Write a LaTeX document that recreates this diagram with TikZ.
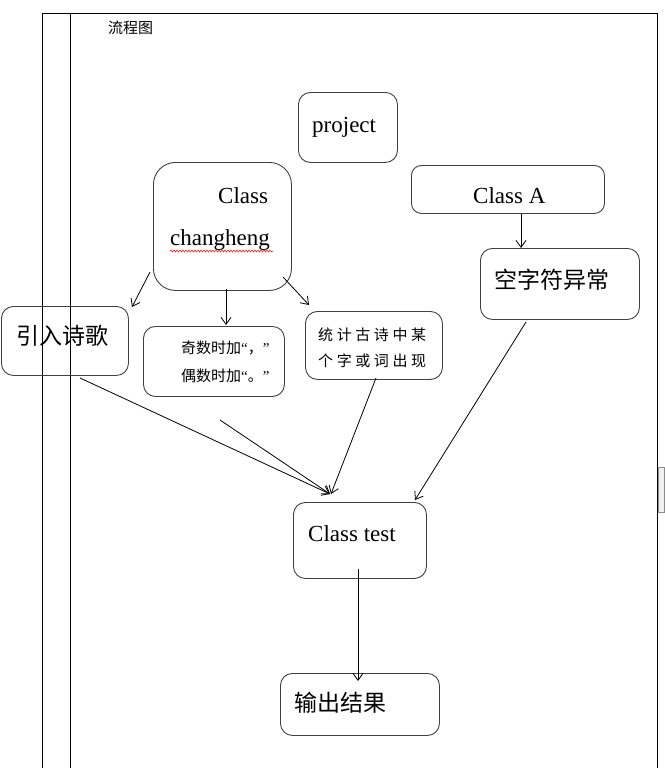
\documentclass[tikz,border=0pt]{standalone}
\usepackage{fontspec}
\setmainfont{Liberation Serif}
\newfontfamily\cjk{Noto Sans CJK SC}
\newfontfamily\cjksp[LetterSpace=24]{Noto Sans CJK SC}
\newfontfamily\qfont{Liberation Serif}
\usetikzlibrary{arrows.meta,decorations.pathmorphing}
\tikzset{
  box/.style={draw=black!75, line width=0.9pt, rectangle, rounded corners=12pt, inner sep=0pt, anchor=north west},
  lbl/.style={inner sep=0pt, anchor=base west},
  big/.style={font=\fontsize{23}{23}\selectfont},
  bigcjk/.style={font=\cjk\fontsize{23}{23}\selectfont},
  small/.style={font=\cjk\fontsize{15}{15}\selectfont},
  conn/.style={draw=black, line width=0.8pt, -{Straight Barb[length=7pt,width=10pt]}},
  frame/.style={draw=black, line width=1pt}
}
\begin{document}
\begin{tikzpicture}[x=1pt,y=-1pt]
\useasboundingbox (0,0) rectangle (664,768);
% frame
\draw[frame] (42,768) -- (42,14) -- (657,14) -- (657,768);
\draw[frame] (70,14) -- (70,768);
\draw[draw=black!45, fill=black!6] (658,467) rectangle (664,512);
\node[lbl, font=\cjk\fontsize{15}{15}\selectfont] (title) at (108,34) {流程图};
% boxes
\node[box, minimum width=99pt, minimum height=70pt] (proj) at (298,92) {};
\node[box, rounded corners=22pt, minimum width=138pt, minimum height=128pt] (chg) at (153,162) {};
\node[box, rounded corners=10pt, minimum width=193pt, minimum height=48pt] (clsA) at (411,165) {};
\node[box, minimum width=159pt, minimum height=71pt] (kong) at (480,248) {};
\node[box, minimum width=127pt, minimum height=69pt] (yin) at (1,306) {};
\node[box, minimum width=141pt, minimum height=70pt] (odd) at (143,326) {};
\node[box, minimum width=137pt, minimum height=68pt] (stat) at (305,311) {};
\node[box, minimum width=133pt, minimum height=76pt] (test) at (293,502) {};
\node[box, minimum width=159pt, minimum height=62pt] (out) at (280,673) {};
% texts
\node[lbl, big] (tproj) at (312,132) {project};
\node[lbl, big] (tcls) at (218,203) {Class};
\node[lbl, big] (tchg) at (170,245) {changheng};
\node[lbl, big] (tclsA) at (473,203) {Class A};
\node[lbl, big] (ttest) at (308,541) {Class test};
\node[lbl, bigcjk] (tkong) at (494,288) {空字符异常};
\node[lbl, bigcjk] (tyin) at (16,344) {引入诗歌};
\node[lbl, bigcjk] (tout) at (294,711) {输出结果};
\node[lbl, small] (todd1) at (181,353) {奇数时加{\qfont “}，{\qfont ”}};
\node[lbl, small] (todd2) at (181,381) {偶数时加{\qfont “}。{\qfont ”}};
\node[lbl, font=\cjksp\fontsize{15}{15}\selectfont] (tstat1) at (318,340) {统计古诗中某};
\node[lbl, font=\cjksp\fontsize{15}{15}\selectfont] (tstat2) at (318,366) {个字或词出现};
% wavy underline
\coordinate (w1) at (170,251);
\coordinate (w2) at (273,251);
\draw[red, line width=0.5pt, decorate, decoration={snake, amplitude=1pt, segment length=3pt}] (w1) -- (w2);
% connector ends
\coordinate (a1) at (150,272); \coordinate (a2) at (132,307);
\coordinate (b1) at (226,289); \coordinate (b2) at (226,325);
\coordinate (c1) at (283,277); \coordinate (c2) at (309,305);
\coordinate (d1) at (521,214); \coordinate (d2) at (521,248);
\coordinate (e1) at (80,378);  \coordinate (e2) at (330,494);
\coordinate (f1) at (220,420); \coordinate (f2) at (330,494);
\coordinate (g1) at (376,378); \coordinate (g2) at (331,494);
\coordinate (h1) at (526,322); \coordinate (h2) at (415,500);
\coordinate (i1) at (358,569); \coordinate (i2) at (358,681);
\draw[conn] (a1) -- (a2);
\draw[conn] (b1) -- (b2);
\draw[conn] (c1) -- (c2);
\draw[conn] (d1) -- (d2);
\draw[conn] (e1) -- (e2);
\draw[conn] (f1) -- (f2);
\draw[conn] (g1) -- (g2);
\draw[conn] (h1) -- (h2);
\draw[conn] (i1) -- (i2);
\end{tikzpicture}
\end{document}
